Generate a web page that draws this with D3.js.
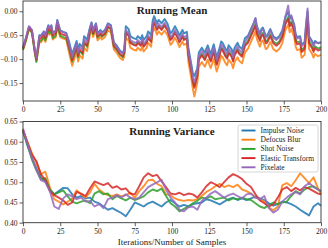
<!doctype html>
<html lang="en">
<head>
  <meta charset="utf-8">
  <title>Running Mean / Running Variance</title>
  <script src="https://d3js.org/d3.v7.min.js"></script>
</head>
<style>
  body { margin: 0; background: #fff; font-family: "Liberation Serif", serif; }
  svg text { fill: #222; }
</style>
<body>
<svg xmlns="http://www.w3.org/2000/svg"></svg>
<script>

// series names, in legend order
var seriesNames = ["Impulse Noise", "Defocus Blur", "Shot Noise", "Elastic Transform", "Pixelate"];
var seriesColors = ["#1f77b4", "#ff7f0e", "#2ca02c", "#d62728", "#9467bd"];

var xTicks = [0, 25, 50, 75, 100, 125, 150, 175, 200];
var meanTicks = [-0.15, -0.10, -0.05, 0.00];
var varTicks = [0.40, 0.45, 0.50, 0.55, 0.60, 0.65];

// ---- running mean ----
var iterMean = [0,2,4,6,8,9,11,12,14,15, 17,18,19,20,22,23,25,27,29,31,
  33,34,36,37,38,40,41,43,45,46, 47,49,50,52,53,55,57,59,61,63,
  65,67,68,69,71,72,74,76,77,79, 80,81,83,84,86,87,88,90,91,93,
  95,97,99,100,102,104,105,107,108,110, 111,113,114,115,117,118,120,122,124,125,
  126,128,130,132,133,134,136,137,138,140, 141,142,144,145,147,149,151,153,155,156,
  157,159,160,161,163,164,166,168,170,172, 174,175,176,178,179,180,182,183,184,186,
  187,189,190,191,192,194,195,196,198,200];

var meanImpulse = [-0.076,-0.056,-0.032,-0.040,-0.083,-0.099,-0.050,-0.051,-0.042,-0.050,
  -0.029,-0.035,-0.029,-0.045,-0.040,-0.018,-0.040,-0.043,-0.045,-0.064,
  -0.090,-0.080,-0.062,-0.081,-0.068,-0.075,-0.052,-0.059,-0.033,-0.023,
  -0.039,-0.025,-0.046,-0.039,-0.044,-0.039,-0.025,-0.029,-0.065,-0.072,
  -0.082,-0.087,-0.079,-0.031,-0.038,-0.052,-0.056,-0.058,-0.052,-0.058,
  -0.050,-0.060,-0.052,-0.042,-0.050,-0.020,-0.010,-0.025,-0.018,-0.025,
  -0.016,-0.026,-0.046,-0.043,-0.031,-0.043,-0.051,-0.039,-0.046,-0.043,
  -0.076,-0.111,-0.130,-0.135,-0.119,-0.086,-0.076,-0.086,-0.071,-0.081,
  -0.089,-0.069,-0.096,-0.076,-0.063,-0.066,-0.079,-0.083,-0.071,-0.079,
  -0.089,-0.076,-0.066,-0.073,-0.079,-0.056,-0.051,-0.037,-0.023,-0.015,
  -0.031,-0.047,-0.037,-0.034,-0.052,-0.050,-0.037,-0.052,-0.057,-0.052,
  -0.040,-0.027,-0.013,-0.001,-0.017,-0.010,-0.027,-0.047,-0.054,-0.052,
  -0.070,-0.064,-0.027,0.000,-0.052,-0.062,-0.070,-0.062,-0.067,-0.064];

var meanDefocus = [-0.080,-0.060,-0.036,-0.044,-0.087,-0.104,-0.064,-0.065,-0.056,-0.064,
  -0.043,-0.049,-0.043,-0.059,-0.054,-0.032,-0.054,-0.057,-0.059,-0.088,
  -0.114,-0.104,-0.086,-0.105,-0.092,-0.099,-0.076,-0.083,-0.048,-0.038,
  -0.054,-0.040,-0.061,-0.054,-0.059,-0.054,-0.040,-0.044,-0.080,-0.087,
  -0.097,-0.102,-0.094,-0.055,-0.062,-0.076,-0.080,-0.082,-0.076,-0.082,
  -0.074,-0.084,-0.076,-0.066,-0.074,-0.044,-0.034,-0.049,-0.042,-0.049,
  -0.040,-0.050,-0.070,-0.067,-0.055,-0.067,-0.075,-0.063,-0.070,-0.067,
  -0.106,-0.141,-0.162,-0.178,-0.149,-0.116,-0.106,-0.116,-0.101,-0.111,
  -0.119,-0.099,-0.126,-0.106,-0.093,-0.096,-0.109,-0.113,-0.101,-0.109,
  -0.119,-0.106,-0.096,-0.103,-0.109,-0.086,-0.078,-0.064,-0.050,-0.042,
  -0.058,-0.074,-0.064,-0.061,-0.079,-0.077,-0.064,-0.079,-0.084,-0.079,
  -0.067,-0.054,-0.040,-0.028,-0.044,-0.037,-0.054,-0.074,-0.081,-0.079,
  -0.097,-0.091,-0.054,-0.027,-0.079,-0.089,-0.097,-0.089,-0.094,-0.091];

var meanShot = [-0.081,-0.061,-0.037,-0.045,-0.089,-0.106,-0.061,-0.062,-0.053,-0.061,
  -0.040,-0.046,-0.040,-0.056,-0.051,-0.029,-0.051,-0.054,-0.056,-0.079,
  -0.105,-0.095,-0.077,-0.096,-0.083,-0.090,-0.067,-0.074,-0.042,-0.032,
  -0.048,-0.034,-0.055,-0.048,-0.053,-0.048,-0.034,-0.038,-0.074,-0.081,
  -0.091,-0.096,-0.088,-0.043,-0.050,-0.064,-0.068,-0.070,-0.064,-0.070,
  -0.062,-0.072,-0.064,-0.054,-0.062,-0.032,-0.022,-0.037,-0.030,-0.037,
  -0.028,-0.038,-0.058,-0.055,-0.043,-0.055,-0.063,-0.051,-0.058,-0.055,
  -0.089,-0.124,-0.145,-0.157,-0.132,-0.099,-0.089,-0.099,-0.084,-0.094,
  -0.102,-0.082,-0.109,-0.089,-0.076,-0.079,-0.092,-0.096,-0.084,-0.092,
  -0.102,-0.089,-0.079,-0.086,-0.092,-0.069,-0.062,-0.048,-0.034,-0.026,
  -0.042,-0.058,-0.048,-0.045,-0.063,-0.061,-0.048,-0.063,-0.068,-0.063,
  -0.051,-0.038,-0.024,-0.012,-0.028,-0.021,-0.038,-0.058,-0.065,-0.063,
  -0.081,-0.075,-0.038,-0.011,-0.063,-0.073,-0.081,-0.073,-0.078,-0.075];

var meanElastic = [-0.078,-0.058,-0.034,-0.042,-0.085,-0.101,-0.056,-0.057,-0.048,-0.056,
  -0.035,-0.041,-0.035,-0.051,-0.046,-0.024,-0.046,-0.049,-0.051,-0.076,
  -0.102,-0.092,-0.074,-0.093,-0.080,-0.087,-0.064,-0.071,-0.040,-0.030,
  -0.046,-0.032,-0.053,-0.046,-0.051,-0.046,-0.032,-0.036,-0.072,-0.079,
  -0.089,-0.094,-0.086,-0.045,-0.052,-0.066,-0.070,-0.072,-0.066,-0.072,
  -0.064,-0.074,-0.066,-0.056,-0.064,-0.034,-0.024,-0.039,-0.032,-0.039,
  -0.030,-0.040,-0.060,-0.057,-0.045,-0.057,-0.065,-0.053,-0.060,-0.057,
  -0.092,-0.127,-0.148,-0.160,-0.135,-0.102,-0.092,-0.102,-0.087,-0.097,
  -0.105,-0.085,-0.112,-0.092,-0.079,-0.082,-0.095,-0.099,-0.087,-0.095,
  -0.105,-0.092,-0.082,-0.089,-0.095,-0.072,-0.066,-0.052,-0.038,-0.030,
  -0.046,-0.062,-0.052,-0.049,-0.067,-0.065,-0.052,-0.067,-0.072,-0.067,
  -0.055,-0.042,-0.028,-0.016,-0.032,-0.025,-0.042,-0.062,-0.069,-0.067,
  -0.085,-0.079,-0.042,-0.015,-0.067,-0.077,-0.085,-0.077,-0.082,-0.079];

var meanPixelate = [-0.075,-0.055,-0.031,-0.039,-0.082,-0.098,-0.051,-0.052,-0.043,-0.051,
  -0.030,-0.036,-0.030,-0.046,-0.041,-0.019,-0.041,-0.044,-0.046,-0.070,
  -0.096,-0.086,-0.068,-0.087,-0.074,-0.081,-0.058,-0.065,-0.035,-0.025,
  -0.041,-0.027,-0.048,-0.041,-0.046,-0.041,-0.027,-0.031,-0.067,-0.074,
  -0.084,-0.089,-0.081,-0.039,-0.046,-0.060,-0.064,-0.066,-0.060,-0.066,
  -0.058,-0.068,-0.060,-0.050,-0.058,-0.028,-0.018,-0.033,-0.026,-0.033,
  -0.024,-0.034,-0.054,-0.051,-0.039,-0.051,-0.059,-0.047,-0.054,-0.051,
  -0.083,-0.118,-0.139,-0.148,-0.126,-0.093,-0.083,-0.093,-0.078,-0.088,
  -0.096,-0.076,-0.103,-0.083,-0.070,-0.073,-0.086,-0.090,-0.078,-0.086,
  -0.096,-0.083,-0.073,-0.080,-0.086,-0.063,-0.054,-0.040,-0.024,-0.014,
  -0.034,-0.050,-0.040,-0.037,-0.055,-0.053,-0.040,-0.055,-0.060,-0.055,
  -0.043,-0.030,-0.012,0.012,-0.015,-0.008,-0.030,-0.050,-0.057,-0.055,
  -0.073,-0.067,-0.025,0.006,-0.055,-0.065,-0.073,-0.065,-0.066,-0.066];

// ---- running variance ----
var iterVar = [0,3,6,9,12,15,18,21,24,27, 30,33,36,39,42,45,48,51,54,57,
  60,63,66,69,72,75,78,81,84,87, 90,93,96,99,102,105,108,111,114,117,
  120,123,126,129,132,135,138,141,144,147, 150,153,156,159,162,165,168,171,174,177,
  180,183,186,189,192,195,198,200];

var varImpulse = [0.627,0.590,0.560,0.535,0.512,0.502,0.482,0.470,0.478,0.486,
  0.485,0.470,0.462,0.466,0.460,0.462,0.452,0.448,0.440,0.432,
  0.436,0.430,0.424,0.416,0.432,0.450,0.445,0.440,0.448,0.452,
  0.446,0.440,0.450,0.456,0.448,0.440,0.444,0.440,0.446,0.448,
  0.450,0.458,0.455,0.450,0.445,0.452,0.458,0.462,0.456,0.460,
  0.456,0.460,0.464,0.460,0.456,0.448,0.442,0.446,0.452,0.450,
  0.446,0.440,0.432,0.425,0.418,0.440,0.448,0.442];

var varDefocus = [0.628,0.600,0.572,0.548,0.520,0.526,0.488,0.458,0.452,0.445,
  0.452,0.460,0.480,0.470,0.462,0.475,0.496,0.482,0.474,0.468,
  0.466,0.470,0.465,0.468,0.474,0.462,0.478,0.490,0.505,0.506,
  0.496,0.490,0.470,0.468,0.460,0.456,0.454,0.456,0.455,0.458,
  0.466,0.476,0.482,0.490,0.496,0.488,0.492,0.488,0.494,0.482,
  0.478,0.472,0.462,0.458,0.452,0.438,0.430,0.440,0.492,0.498,
  0.490,0.505,0.522,0.510,0.498,0.512,0.485,0.470];

var varShot = [0.626,0.592,0.556,0.530,0.508,0.510,0.482,0.470,0.475,0.480,
  0.465,0.452,0.448,0.452,0.455,0.448,0.472,0.478,0.470,0.472,
  0.458,0.466,0.460,0.455,0.462,0.456,0.460,0.465,0.475,0.482,
  0.478,0.484,0.466,0.448,0.440,0.428,0.434,0.440,0.448,0.454,
  0.462,0.460,0.465,0.458,0.460,0.462,0.455,0.460,0.458,0.462,
  0.458,0.456,0.448,0.440,0.436,0.444,0.450,0.446,0.450,0.452,
  0.466,0.478,0.472,0.482,0.488,0.490,0.482,0.478];

var varElastic = [0.630,0.598,0.568,0.552,0.520,0.505,0.478,0.468,0.462,0.455,
  0.444,0.450,0.476,0.472,0.466,0.485,0.502,0.497,0.493,0.498,
  0.486,0.490,0.482,0.485,0.472,0.470,0.490,0.512,0.522,0.515,
  0.518,0.502,0.488,0.472,0.470,0.474,0.468,0.472,0.470,0.462,
  0.475,0.490,0.500,0.495,0.488,0.500,0.512,0.520,0.515,0.508,
  0.496,0.488,0.470,0.455,0.448,0.440,0.445,0.462,0.482,0.488,
  0.478,0.486,0.480,0.488,0.484,0.478,0.472,0.470];

var varPixelate = [0.632,0.596,0.560,0.530,0.505,0.500,0.478,0.440,0.434,0.460,
  0.470,0.465,0.458,0.462,0.452,0.454,0.440,0.446,0.436,0.458,
  0.462,0.468,0.462,0.470,0.462,0.458,0.462,0.475,0.488,0.494,
  0.500,0.506,0.482,0.462,0.450,0.432,0.428,0.438,0.440,0.432,
  0.454,0.462,0.472,0.478,0.470,0.462,0.468,0.472,0.466,0.460,
  0.470,0.472,0.462,0.458,0.466,0.436,0.425,0.432,0.452,0.462,
  0.470,0.476,0.470,0.490,0.498,0.488,0.482,0.478];

var meanSeries = [meanImpulse, meanDefocus, meanShot, meanElastic, meanPixelate];
var varSeries = [varImpulse, varDefocus, varShot, varElastic, varPixelate];

var svg = d3.select("svg")
  .attr("width", 328)
  .attr("height", 248);

var left = 23, right = 321;

var x = d3.scaleLinear()
  .domain([0, 200])
  .range([left, right]);

var yMean = d3.scaleLinear()
  .domain([-0.1875, 0.0215])
  .range([101, 1]);

var yVar = d3.scaleLinear()
  .domain([0.40, 0.65])
  .range([222.7, 121.5]);

function drawPanel(y, yTicks, iters, series, title, titleY) {
  var g = svg.append("g");

  // lines first, frame drawn over them
  series.forEach(function (vals, i) {
    var line = d3.line()
      .x(function (d, j) { return x(iters[j]); })
      .y(function (d) { return y(d); });
    g.append("path")
      .datum(vals)
      .attr("fill", "none")
      .attr("stroke", seriesColors[i])
      .attr("stroke-width", 1.9)
      .attr("stroke-opacity", 0.85)
      .attr("stroke-linejoin", "round")
      .attr("d", line);
  });

  var bottom = y.range()[0], top = y.range()[1];

  g.append("g")
    .attr("transform", "translate(0," + bottom + ")")
    .call(d3.axisBottom(x).tickValues(xTicks).tickSize(3.5).tickPadding(2))
    .call(function (a) { a.select(".domain").remove(); });

  g.append("g")
    .attr("transform", "translate(" + left + ",0)")
    .call(d3.axisLeft(y).tickValues(yTicks).tickSize(3.5).tickPadding(2)
      .tickFormat(d3.format(".2f")))
    .call(function (a) { a.select(".domain").remove(); });

  g.selectAll(".tick text")
    .style("font-family", "'Liberation Serif', serif")
    .style("font-size", "7.5px")
    .attr("fill", "#222");
  g.selectAll(".tick line").attr("stroke", "#333").attr("stroke-width", 0.8);

  g.append("rect")
    .attr("x", left)
    .attr("y", top)
    .attr("width", right - left)
    .attr("height", bottom - top)
    .attr("fill", "none")
    .attr("stroke", "#333")
    .attr("stroke-width", 0.9);

  g.append("text")
    .attr("x", (left + right) / 2)
    .attr("y", titleY)
    .attr("text-anchor", "middle")
    .style("font-size", "11px")
    .style("font-weight", "bold")
    .text(title);
}

drawPanel(yMean, meanTicks, iterMean, meanSeries, "Running Mean", 14);
drawPanel(yVar, varTicks, iterVar, varSeries, "Running Variance", 135);

// legend
var legend = svg.append("g");
legend.append("rect")
  .attr("x", 238)
  .attr("y", 125)
  .attr("width", 80)
  .attr("height", 47)
  .attr("rx", 2)
  .attr("fill", "#fff")
  .attr("fill-opacity", 0.8)
  .attr("stroke", "#ccc")
  .attr("stroke-width", 0.8);

seriesNames.forEach(function (name, i) {
  var ly = 130.5 + i * 9.2;
  legend.append("line")
    .attr("x1", 241.5).attr("x2", 255.5)
    .attr("y1", ly).attr("y2", ly)
    .attr("stroke", seriesColors[i])
    .attr("stroke-width", 1.9);
  legend.append("text")
    .attr("x", 260.5)
    .attr("y", ly + 2.5)
    .style("font-size", "7.5px")
    .text(name);
});

svg.append("text")
  .attr("x", (left + right) / 2)
  .attr("y", 245)
  .attr("text-anchor", "middle")
  .style("font-size", "9px")
  .text("Iterations/Number of Samples");

</script>
</body>
</html>
